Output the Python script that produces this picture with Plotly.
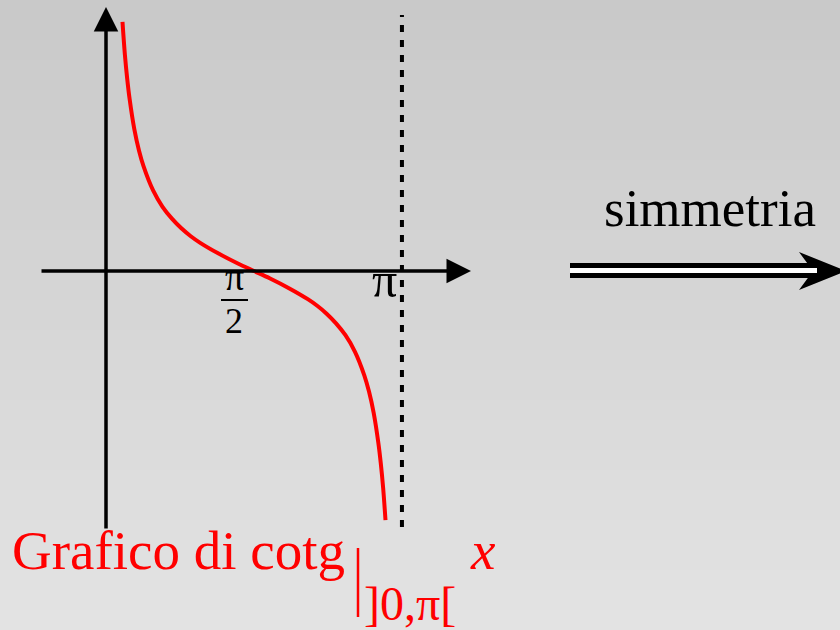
import plotly.graph_objects as go

# values (x in radians, y = value of the curve)
x_vals = [0.175, 0.2, 0.225, 0.25, 0.3, 0.35, 0.4, 0.5, 0.6, 0.7, 0.8, 0.9, 1.0, 1.2, 1.4,
          1.571, 1.742, 1.942, 2.142, 2.242, 2.342, 2.442, 2.542, 2.642, 2.742, 2.792,
          2.842, 2.892, 2.917, 2.942, 2.967]
y_vals = [5.66, 4.93, 4.37, 3.92, 3.23, 2.74, 2.37, 1.83, 1.46, 1.19, 0.97, 0.79, 0.64, 0.39, 0.17,
          0.0, -0.17, -0.39, -0.64, -0.79, -0.97, -1.19, -1.46, -1.83, -2.37, -2.74,
          -3.23, -3.92, -4.37, -4.93, -5.66]
asymptote_x = 3.14159
tick_pos = [1.5708, 3.14159]

W, H = 840, 630
X0, SX = 106, 94.2   # pixel of x=0, pixels per unit
Y0, SY = 271, 44


def px(p):
    return p / W


def py(p):
    return 1 - p / H


def dx(p):
    return (p - X0) / SX


def dy(p):
    return (Y0 - p) / SY


SERIF = "Liberation Serif"

fig = go.Figure()
fig.add_trace(go.Scatter(x=x_vals, y=y_vals, mode="lines", line_shape="spline",
                         line=dict(color="#ff0000", width=4), hoverinfo="skip"))

shapes = []
# background gradient
n = 63
for i in range(n):
    c = int(round(201 + (227 - 201) * i / (n - 1)))
    shapes.append(dict(type="rect", xref="paper", yref="paper", x0=0, x1=1,
                       y0=py((i + 1) * H / n + 0.5), y1=py(i * H / n),
                       fillcolor="rgb(%d,%d,%d)" % (c, c, c), line_width=0, layer="below"))

# dashed asymptote
shapes.append(dict(type="line", xref="x", yref="y", x0=asymptote_x, x1=asymptote_x,
                   y0=dy(527), y1=dy(15), line=dict(color="black", width=4, dash="7px,8px")))

# pi/2 fraction bar
shapes.append(dict(type="line", xref="paper", yref="paper", x0=px(221), x1=px(248),
                   y0=py(300), y1=py(300), line=dict(color="black", width=2)))

# restriction bar
shapes.append(dict(type="line", xref="paper", yref="paper", x0=px(358), x1=px(358),
                   y0=py(548), y1=py(617), line=dict(color="#ff0000", width=2.5)))

# double arrow "=>"
shapes.append(dict(type="rect", xref="paper", yref="paper", x0=px(570), x1=px(815),
                   y0=py(278), y1=py(263), fillcolor="black", line_width=0))
shapes.append(dict(type="path", xref="paper", yref="paper",
                   path="M %f,%f L %f,%f L %f,%f L %f,%f Z" % (
                       px(846), py(271), px(799), py(252), px(813), py(271), px(799), py(290)),
                   fillcolor="black", line_width=0))
shapes.append(dict(type="rect", xref="paper", yref="paper", x0=px(570), x1=px(817),
                   y0=py(273), y1=py(268), fillcolor="white", line_width=0))

annotations = []
# axes with arrow heads
annotations.append(dict(x=dx(471), y=0, ax=dx(40), ay=0, xref="x", yref="y", axref="x", ayref="y",
                        text="", showarrow=True, arrowhead=2, arrowsize=1.4, arrowwidth=3.5,
                        arrowcolor="black"))
annotations.append(dict(x=0, y=dy(7), ax=0, ay=dy(530), xref="x", yref="y", axref="x", ayref="y",
                        text="", showarrow=True, arrowhead=2, arrowsize=1.4, arrowwidth=3.5,
                        arrowcolor="black"))


def label(text, x, y, size, color="black", xanchor="center"):
    annotations.append(dict(text=text, x=px(x), y=py(y), xref="paper", yref="paper",
                            showarrow=False, xanchor=xanchor, yanchor="middle",
                            font=dict(family=SERIF, size=size, color=color)))


label("π", 234, 277, 38)
label("2", 234, 321, 36)
label("π", 384, 280, 50)
label("simmetria", 710, 208, 53)
label("Grafico di cotg", 10, 550, 55, "#ff0000", "left")
label("]0,π[", 410, 603, 48, "#ff0000")
label("<i>x</i>", 483, 550, 55, "#ff0000")

fig.update_layout(
    width=W, height=H, margin=dict(l=0, r=0, t=0, b=0),
    paper_bgcolor="#d6d6d6", plot_bgcolor="rgba(0,0,0,0)",
    showlegend=False, shapes=shapes, annotations=annotations,
    xaxis=dict(range=[dx(0), dx(W)], visible=False, fixedrange=True),
    yaxis=dict(range=[dy(H), dy(0)], visible=False, fixedrange=True),
)

fig.write_html("out.html", config={"displayModeBar": False},
               post_script="document.body.style.margin='0';")
